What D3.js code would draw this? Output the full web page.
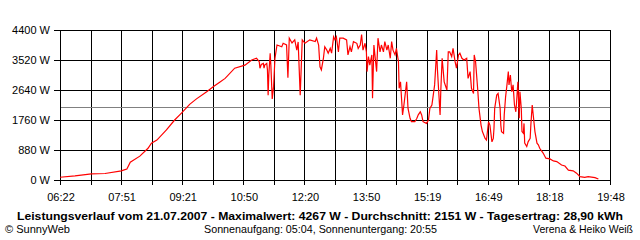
<!DOCTYPE html>
<html>
<head>
<meta charset="utf-8">
<script src="https://cdn.jsdelivr.net/npm/d3@7"></script>
<style>
  body { margin: 0; background: #fff; }
  text { font-family: "Liberation Sans", Arial, sans-serif; }
</style>
</head>
<body>
<script>
// Leistungsverlauf 21.07.2007, values
var times = ["06:22","06:44","07:08","07:28","07:52","07:55","08:00","08:05","08:19","08:31",
  "08:36","08:44","08:58","09:10","09:20","09:32","09:42","09:57","10:07","10:16",
  "10:24","10:38","10:53","11:03","11:10","11:14","11:15","11:17","11:20","11:21",
  "11:22","11:25","11:26","11:27","11:28","11:30","11:31","11:33","11:35","11:37",
  "11:40","11:47","11:49","11:54","11:56","11:58","12:02","12:06","12:09","12:11",
  "12:14","12:17","12:21","12:28","12:36","12:38","12:41","12:43","12:45","12:48",
  "12:50","12:53","12:55","12:58","13:00","13:03","13:05","13:07","13:10","13:12",
  "13:17","13:22","13:24","13:27","13:29","13:32","13:37","13:39","13:42","13:44",
  "13:46","13:49","13:51","13:52","13:54","13:56","13:59","14:00","14:02","14:06",
  "14:08","14:11","14:13","14:16","14:18","14:21","14:23","14:26","14:28","14:30",
  "14:33","14:35","14:38","14:39","14:41","14:44","14:46","14:50","14:52","14:55",
  "14:57","15:02","15:05","15:07","15:10","15:12","15:14","15:19","15:22","15:24",
  "15:27","15:29","15:31","15:34","15:35","15:37","15:39","15:40","15:42","15:45",
  "15:49","15:51","15:53","15:56","15:58","16:01","16:03","16:06","16:08","16:11",
  "16:14","16:18","16:20","16:23","16:25","16:28","16:29","16:31","16:34","16:36",
  "16:39","16:41","16:45","16:47","16:50","16:52","16:55","16:57","16:58","16:59",
  "17:02","17:04","17:07","17:08","17:09","17:12","17:13","17:15","17:17","17:19",
  "17:20","17:22","17:24","17:26","17:28","17:30","17:31","17:33","17:35","17:36",
  "17:38","17:39","17:41","17:42","17:43","17:46","17:48","17:51","17:52","17:54",
  "17:56","17:58","18:01","18:03","18:05","18:10","18:14","18:20","18:25","18:30",
  "18:37","18:42","18:47","18:54","18:59","19:04","19:11","19:16","19:26","19:31"];

var watts = [80,120,180,190,270,290,320,520,700,930,
  1080,1170,1470,1760,1960,2220,2380,2590,2740,2870,
  2980,3280,3370,3520,3570,3470,3280,3390,3420,3280,
  3370,3420,3230,2490,3080,3720,3370,2380,2740,3570,
  3960,3910,4010,3960,3000,4160,4020,4110,3810,4050,
  2490,4110,4010,4110,4060,4160,3960,3320,3230,3570,
  3910,3810,3720,3860,3720,4200,4110,4200,3760,4160,
  4160,4110,3670,3910,3760,4060,4010,3860,3960,4267,
  3810,4010,3760,3180,3620,3370,3670,2400,3960,3180,
  4160,3760,3960,3760,4060,3810,3960,3570,4060,3810,
  3670,3860,3470,2690,2880,1910,2200,2880,2100,1810,
  1710,1710,1810,1910,2000,1910,1710,1660,1760,2100,
  2200,2490,2790,3810,3280,2590,1910,2590,3570,2880,
  2640,3760,3760,3620,3860,3470,3280,3670,3720,3570,
  3520,3570,2980,3180,2690,2540,3670,3470,2690,2100,
  1610,1420,1220,1170,1710,1610,1120,1220,1520,2100,
  2490,2540,2100,1610,1420,1370,1910,2440,2790,3180,
  2790,3080,2590,2790,2200,2000,2250,2880,1810,2590,
  2100,1420,1370,1660,1080,980,1120,1220,1610,2200,
  1810,1420,1080,1030,930,790,640,620,560,540,
  440,410,290,270,200,100,80,100,70,30];

var yTicks = [0, 880, 1760, 2640, 3520, 4400];
var xTickLabels = ["06:22","07:51","09:21","10:50","12:20","13:50","15:19","16:49","18:18","19:48"];
var average = 2151;

var title = "Leistungsverlauf vom 21.07.2007 - Maximalwert: 4267 W - Durchschnitt: 2151 W - Tagesertrag: 28,90 kWh";
var footLeft = "\u00a9 SunnyWeb";
var footMid = "Sonnenaufgang: 05:04, Sonnenuntergang: 20:55";
var footRight = "Verena & Heiko Wei\u00df";

function toMin(s) {
  var p = s.split(":");
  return +p[0] * 60 + +p[1];
}

var width = 640, height = 240;
var plotLeft = 60, plotRight = 610, plotTop = 30, plotBottom = 180;

var tStart = toMin(xTickLabels[0]), tEnd = toMin(xTickLabels[xTickLabels.length - 1]);
var x = d3.scaleLinear().domain([tStart, tEnd]).range([plotLeft, plotRight]);
var y = d3.scaleLinear().domain([0, 4400]).range([plotBottom, plotTop]);

var svg = d3.select("body").append("svg")
  .attr("width", width)
  .attr("height", height);

// 18 vertical grid lines, label on every second one
var gridX = d3.range(19).map(function(k) { return tStart + k * (tEnd - tStart) / 18; });

svg.append("g").selectAll("line")
  .data(gridX)
  .enter().append("line")
  .attr("x1", function(d) { return Math.round(x(d)) + 0.5; })
  .attr("x2", function(d) { return Math.round(x(d)) + 0.5; })
  .attr("y1", plotTop)
  .attr("y2", plotBottom + 5)
  .attr("stroke", "#000")
  .attr("shape-rendering", "crispEdges");

svg.append("g").selectAll("line")
  .data(yTicks)
  .enter().append("line")
  .attr("x1", plotLeft - 6)
  .attr("x2", plotRight + 1)
  .attr("y1", function(d) { return Math.round(y(d)) + 0.5; })
  .attr("y2", function(d) { return Math.round(y(d)) + 0.5; })
  .attr("stroke", "#000")
  .attr("shape-rendering", "crispEdges");

svg.append("line")
  .attr("x1", plotLeft + 1)
  .attr("x2", plotRight)
  .attr("y1", Math.round(y(average)) + 0.5)
  .attr("y2", Math.round(y(average)) + 0.5)
  .attr("stroke", "#808080")
  .attr("shape-rendering", "crispEdges");

svg.append("g").selectAll("text")
  .data(yTicks)
  .enter().append("text")
  .attr("x", 50)
  .attr("y", function(d) { return y(d) + 4; })
  .attr("text-anchor", "end")
  .attr("font-size", 11)
  .text(function(d) { return d + " W"; });

svg.append("g").selectAll("text")
  .data(xTickLabels)
  .enter().append("text")
  .attr("x", function(d, i) { return x(gridX[i * 2]) + 1; })
  .attr("y", 201)
  .attr("text-anchor", "middle")
  .attr("font-size", 11)
  .text(function(d) { return d; });

var points = times.map(function(t, i) { return [toMin(t), watts[i]]; });

var line = d3.line()
  .x(function(d) { return x(d[0]); })
  .y(function(d) { return y(d[1]); });

svg.append("path")
  .datum(points)
  .attr("d", line)
  .attr("fill", "none")
  .attr("stroke", "#ff0000")
  .attr("stroke-width", 1.2);

svg.append("text")
  .attr("x", 17)
  .attr("y", 220)
  .attr("font-size", 11)
  .attr("font-weight", "bold")
  .attr("textLength", 606)
  .attr("lengthAdjust", "spacingAndGlyphs")
  .text(title);

var foot = [
  { t: footLeft, x: 5, w: 65 },
  { t: footMid, x: 204, w: 233 },
  { t: footRight, x: 533, w: 100 }
];

svg.append("g").selectAll("text")
  .data(foot)
  .enter().append("text")
  .attr("x", function(d) { return d.x; })
  .attr("y", 233)
  .attr("font-size", 10.5)
  .attr("textLength", function(d) { return d.w; })
  .attr("lengthAdjust", "spacingAndGlyphs")
  .text(function(d) { return d.t; });
</script>
</body>
</html>
